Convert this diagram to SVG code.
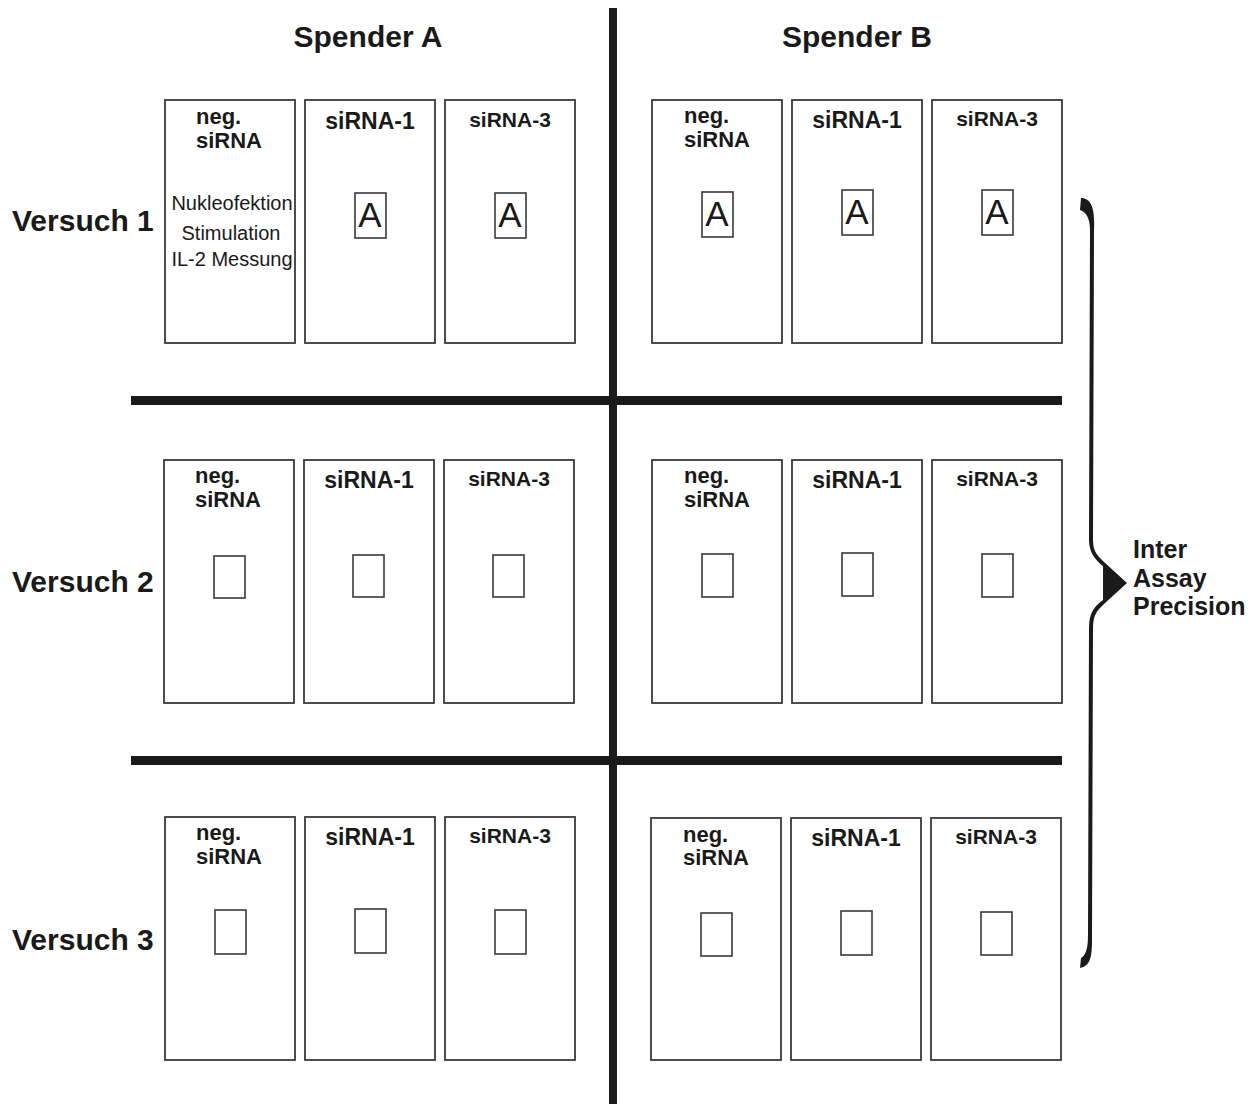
<svg xmlns="http://www.w3.org/2000/svg" width="1257" height="1104" viewBox="0 0 1257 1104">
<style>
.box{fill:#fff;stroke:#3a3a3a;stroke-width:1.8}
.sb{fill:#fff;stroke:#3a3a3a;stroke-width:1.6}
.lbl{font-family:"Liberation Sans",Arial,sans-serif;font-weight:bold;font-size:22px;fill:#1a1a1a}
.s1{font-size:23px}
.s3{font-size:21px}
.lc{text-anchor:middle}
.step{font-family:"Liberation Sans",Arial,sans-serif;font-size:20px;fill:#1a1a1a;text-anchor:middle}
.big{font-family:"Liberation Sans",Arial,sans-serif;font-size:35px;fill:#1a1a1a;text-anchor:middle}
.head{font-family:"Liberation Sans",Arial,sans-serif;font-weight:bold;font-size:30px;fill:#1a1a1a}
.side{font-family:"Liberation Sans",Arial,sans-serif;font-weight:bold;font-size:25px;fill:#1a1a1a}
.bar{fill:#1a1a1a}
</style>
<rect width="1257" height="1104" fill="#fff"/>
<g id="connectors">
<rect class="bar" x="609" y="8" width="8" height="1096"/>
<rect class="bar" x="131" y="396" width="931" height="9"/>
<rect class="bar" x="131" y="756" width="931" height="9"/>
<path class="bar" d="M1081,198 C1092,198 1095,210 1094,230 L1093,540 C1093,552 1098,556 1104,562 L1127,583 L1104,604 C1098,610 1093,614 1093,628 L1092,940 C1092,958 1090,966 1080,968 L1081,958 C1086,955 1088,948 1088,935 L1089,628 C1089,612 1095,606 1103,600 L1103,566 C1095,560 1089,552 1089,540 L1090,230 C1090,218 1086,212 1080,210 Z"/>
</g>
<g id="headers">
<text class="head lc" x="368" y="47">Spender A</text>
<text class="head lc" x="857" y="47">Spender B</text>
<text class="head" x="12" y="231">Versuch 1</text>
<text class="head" x="12" y="592">Versuch 2</text>
<text class="head" x="12" y="950">Versuch 3</text>
<text class="side" x="1133" y="558">Inter</text>
<text class="side" x="1133" y="587">Assay</text>
<text class="side" x="1133" y="615">Precision</text>
</g>
<!-- Row 1 -->
<g id="r1-a-neg">
<rect class="box" x="165" y="100" width="130" height="243"/>
<text class="lbl" x="196" y="124">neg.</text>
<text class="lbl" x="196" y="148">siRNA</text>
<text class="step" x="232" y="210">Nukleofektion</text>
<text class="step" x="231" y="240">Stimulation</text>
<text class="step" x="232" y="266">IL-2 Messung</text>
</g>
<g id="r1-a-s1">
<rect class="box" x="305" y="100" width="130" height="243"/>
<text class="lbl s1 lc" x="370" y="129">siRNA-1</text>
<rect class="sb" x="355" y="193" width="31" height="45"/>
<text class="big" x="370" y="227">A</text>
</g>
<g id="r1-a-s3">
<rect class="box" x="445" y="100" width="130" height="243"/>
<text class="lbl s3 lc" x="510" y="127">siRNA-3</text>
<rect class="sb" x="495" y="193" width="31" height="45"/>
<text class="big" x="510" y="227">A</text>
</g>
<g id="r1-b-neg">
<rect class="box" x="652" y="100" width="130" height="243"/>
<text class="lbl" x="684" y="123">neg.</text>
<text class="lbl" x="684" y="147">siRNA</text>
<rect class="sb" x="702" y="192" width="31" height="45"/>
<text class="big" x="717" y="226">A</text>
</g>
<g id="r1-b-s1">
<rect class="box" x="792" y="100" width="130" height="243"/>
<text class="lbl s1 lc" x="857" y="128">siRNA-1</text>
<rect class="sb" x="842" y="190" width="31" height="45"/>
<text class="big" x="857" y="224">A</text>
</g>
<g id="r1-b-s3">
<rect class="box" x="932" y="100" width="130" height="243"/>
<text class="lbl s3 lc" x="997" y="126">siRNA-3</text>
<rect class="sb" x="982" y="190" width="31" height="45"/>
<text class="big" x="997" y="224">A</text>
</g>
<!-- Row 2 -->
<g id="r2-a-neg">
<rect class="box" x="164" y="460" width="130" height="243"/>
<text class="lbl" x="195" y="483">neg.</text>
<text class="lbl" x="195" y="507">siRNA</text>
<rect class="sb" x="214" y="556" width="31" height="42"/>
</g>
<g id="r2-a-s1">
<rect class="box" x="304" y="460" width="130" height="243"/>
<text class="lbl s1 lc" x="369" y="488">siRNA-1</text>
<rect class="sb" x="353" y="555" width="31" height="42"/>
</g>
<g id="r2-a-s3">
<rect class="box" x="444" y="460" width="130" height="243"/>
<text class="lbl s3 lc" x="509" y="486">siRNA-3</text>
<rect class="sb" x="493" y="555" width="31" height="42"/>
</g>
<g id="r2-b-neg">
<rect class="box" x="652" y="460" width="130" height="243"/>
<text class="lbl" x="684" y="483">neg.</text>
<text class="lbl" x="684" y="507">siRNA</text>
<rect class="sb" x="702" y="554" width="31" height="43"/>
</g>
<g id="r2-b-s1">
<rect class="box" x="792" y="460" width="130" height="243"/>
<text class="lbl s1 lc" x="857" y="488">siRNA-1</text>
<rect class="sb" x="842" y="553" width="31" height="43"/>
</g>
<g id="r2-b-s3">
<rect class="box" x="932" y="460" width="130" height="243"/>
<text class="lbl s3 lc" x="997" y="486">siRNA-3</text>
<rect class="sb" x="982" y="554" width="31" height="43"/>
</g>
<!-- Row 3 -->
<g id="r3-a-neg">
<rect class="box" x="165" y="817" width="130" height="243"/>
<text class="lbl" x="196" y="840">neg.</text>
<text class="lbl" x="196" y="864">siRNA</text>
<rect class="sb" x="215" y="910" width="31" height="44"/>
</g>
<g id="r3-a-s1">
<rect class="box" x="305" y="817" width="130" height="243"/>
<text class="lbl s1 lc" x="370" y="845">siRNA-1</text>
<rect class="sb" x="355" y="909" width="31" height="44"/>
</g>
<g id="r3-a-s3">
<rect class="box" x="445" y="817" width="130" height="243"/>
<text class="lbl s3 lc" x="510" y="843">siRNA-3</text>
<rect class="sb" x="495" y="910" width="31" height="44"/>
</g>
<g id="r3-b-neg">
<rect class="box" x="651" y="818" width="130" height="242"/>
<text class="lbl" x="683" y="842">neg.</text>
<text class="lbl" x="683" y="865">siRNA</text>
<rect class="sb" x="701" y="913" width="31" height="43"/>
</g>
<g id="r3-b-s1">
<rect class="box" x="791" y="818" width="130" height="242"/>
<text class="lbl s1 lc" x="856" y="846">siRNA-1</text>
<rect class="sb" x="841" y="911" width="31" height="44"/>
</g>
<g id="r3-b-s3">
<rect class="box" x="931" y="818" width="130" height="242"/>
<text class="lbl s3 lc" x="996" y="844">siRNA-3</text>
<rect class="sb" x="981" y="912" width="31" height="43"/>
</g>
</svg>
